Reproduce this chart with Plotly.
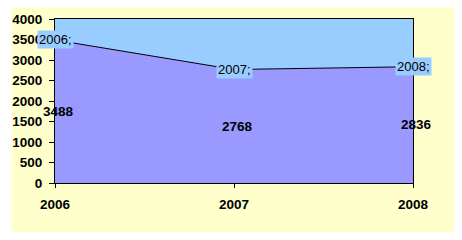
import plotly.graph_objects as go

years = [2006, 2007, 2008]
values = [3488, 2768, 2836]
y_ticks = [0, 500, 1000, 1500, 2000, 2500, 3000, 3500, 4000]
point_labels = ["2006;", "2007;", "2008;"]

FONT = "Liberation Sans, Arial, sans-serif"

fig = go.Figure()
fig.add_trace(go.Scatter(
    x=years, y=values, mode="lines", fill="tozeroy",
    fillcolor="#9999FF", line=dict(color="black", width=1),
    hoverinfo="skip", showlegend=False,
))

annotations = []
for yr, v, lab in zip(years, values, point_labels):
    annotations.append(dict(
        x=yr, y=v, xref="x", yref="y", text=lab, showarrow=False,
        font=dict(family=FONT, size=13, color="black"),
        bgcolor="#99CCFF", borderpad=1, xanchor="center", yanchor="middle",
    ))
    annotations.append(dict(
        x=yr, y=v / 2, xref="x", yref="y", text=f"<b>{v}</b>", showarrow=False,
        font=dict(family=FONT, size=13.5, color="black"),
        xanchor="center", yanchor="middle", xshift=3,
    ))

fig.update_layout(
    width=462, height=240,
    margin=dict(l=49, r=49, t=17, b=57, pad=0),
    paper_bgcolor="white",
    plot_bgcolor="#99CCFF",
    annotations=annotations,
    shapes=[
        dict(type="rect", xref="paper", yref="paper",
             x0=-0.1209, x1=1.1154, y0=-0.3012, y1=1.0723,
             fillcolor="#FFFFCC", line=dict(width=0), layer="below"),
        dict(type="rect", xref="paper", yref="paper",
             x0=0, x1=1, y0=0, y1=1,
             fillcolor="#99CCFF", line=dict(width=0), layer="below"),
    ],
    xaxis=dict(
        range=[years[0], years[-1]], tickvals=years, ticktext=[str(y) for y in years],
        showgrid=False, zeroline=False, showline=True, linecolor="black", linewidth=1,
        mirror=True, ticks="outside", ticklen=4, tickcolor="black",
        tickfont=dict(family=FONT, size=13.5, color="black", weight="bold"),
        ticklabelstandoff=5,
    ),
    yaxis=dict(
        range=[0, 4000], tickvals=y_ticks,
        showgrid=False, zeroline=False, showline=True, linecolor="black", linewidth=1,
        mirror=True, ticks="outside", ticklen=5, tickcolor="black",
        tickfont=dict(family=FONT, size=13.5, color="black", weight="bold"),
        ticklabelstandoff=4,
    ),
)

fig.write_html("out.html")
